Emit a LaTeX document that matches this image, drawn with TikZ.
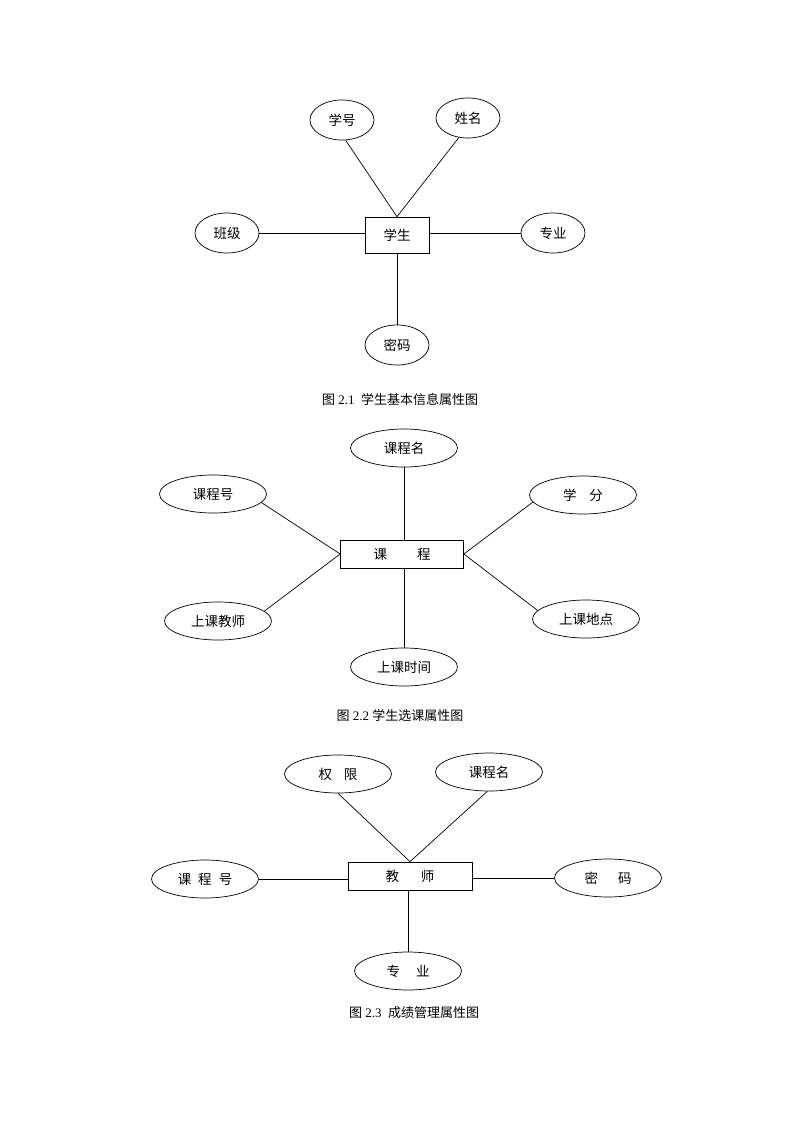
\documentclass[tikz,border=0pt]{standalone}
\usepackage{fontspec}
\setmainfont{Liberation Serif}
\newfontfamily\cjk{Noto Sans CJK SC}
\usetikzlibrary{shapes.geometric}
\begin{document}
\begin{tikzpicture}[x=1pt,y=-1pt,line width=0.7pt,
    attr/.style={draw,ellipse,inner sep=0pt,minimum width=107pt,minimum height=38pt,font=\cjk\fontsize{13.5}{16}\selectfont},
    sattr/.style={attr,minimum width=64pt,minimum height=40pt},
    ent/.style={draw,rectangle,inner sep=0pt,minimum width=124pt,minimum height=28pt,font=\cjk\fontsize{13.5}{16}\selectfont},
    figcap/.style={font=\fontsize{13}{15}\selectfont}]
    \useasboundingbox (0,0) rectangle (800,1132);
    %fig 2.1
    \node[ent,minimum width=64pt,minimum height=36pt] (stu) at (397,235) {学生};
    \node[sattr] (xh) at (342,120) {学号};
    \node[sattr] (xm) at (468,118) {姓名};
    \node[sattr] (bj) at (227,233) {班级};
    \node[sattr] (zy) at (553,233) {专业};
    \node[sattr] (mm) at (397,345) {密码};
    \draw (xh.-80) -- (stu.north);
    \draw (xm.-115) -- (stu.north);
    \draw (bj) -- (bj -| stu.west);
    \draw (zy) -- (zy -| stu.east);
    \draw (stu) -- (mm);
    \node[figcap] (cap1) at (400,400) {{\cjk 图} 2.1\ \ {\cjk 学生基本信息属性图}};
    %fig 2.2
    \node[ent,minimum width=123pt] (kc) at (402,554) {课\hspace{30pt}程};
    \node[attr] (kcm) at (404,448) {课程名};
    \node[attr] (kch) at (213,494) {课程号};
    \node[attr] (xf) at (583,495) {学\hspace{13pt}分};
    \node[attr] (skjs) at (218,621) {上课教师};
    \node[attr] (skdd) at (586,619) {上课地点};
    \node[attr] (sksj) at (404,667) {上课时间};
    \draw (kcm) -- (kcm |- kc.north);
    \draw (kch.-10) -- (kc.west);
    \draw (skjs.12) -- (kc.west);
    \draw (xf.188) -- (kc.east);
    \draw (skdd.170) -- (kc.east);
    \draw (sksj) -- (sksj |- kc.south);
    \node[figcap] (cap2) at (400,715) {{\cjk 图} 2.2 {\cjk 学生选课属性图}};
    %fig 2.3
    \node[ent] (js) at (410,876) {教\hspace{22pt}师};
    \node[attr] (qx) at (338,774) {权\hspace{12pt}限};
    \node[attr] (kcm2) at (489,772) {课程名};
    \node[attr] (kch2) at (205,879) {课\hspace{7pt}程\hspace{7pt}号};
    \node[attr] (mm2) at (608,878) {密\hspace{20pt}码};
    \node[attr] (zy2) at (408,971) {专\hspace{16pt}业};
    \draw (qx.south) -- (js.north);
    \draw (kcm2.-95) -- (js.north);
    \draw (kch2) -- (kch2 -| js.west);
    \draw (mm2) -- (mm2 -| js.east);
    \draw (zy2) -- (zy2 |- js.south);
    \node[figcap] (cap3) at (414,1013) {{\cjk 图} 2.3\ \ {\cjk 成绩管理属性图}};
\end{tikzpicture}
\end{document}
